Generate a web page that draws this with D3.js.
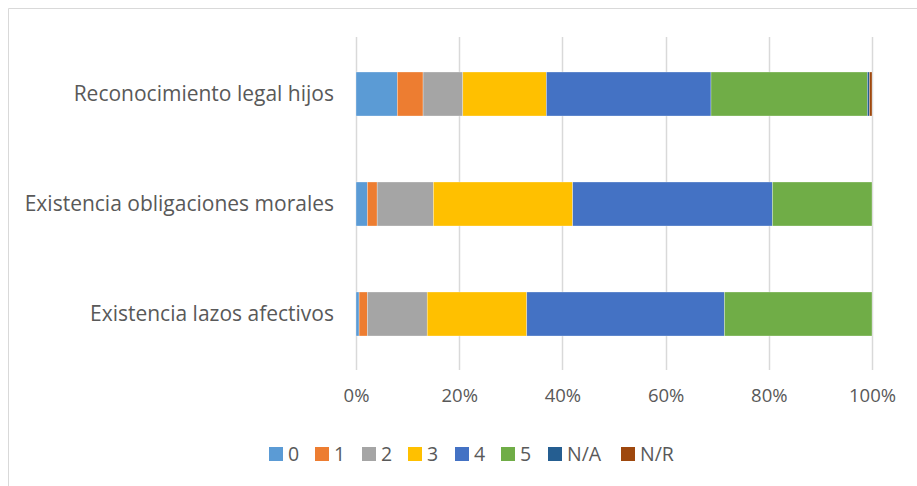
<!DOCTYPE html>
<html><head><meta charset="utf-8">
<script src="https://cdn.jsdelivr.net/npm/d3@7"></script>
<style>body{margin:0;background:#fff}svg{display:block}text{font-family:"Open Sans","Noto Sans",sans-serif;fill:#595959}</style>
</head><body><svg id="c" width="917" height="486"></svg>
<script>
const categories = ["Reconocimiento legal hijos", "Existencia obligaciones morales", "Existencia lazos afectivos"];
const seriesNames = ["0", "1", "2", "3", "4", "5", "N/A", "N/R"];
const s0 = [8.0, 2.2, 0.6];
const s1 = [5.0, 1.9, 1.6];
const s2 = [7.7, 10.9, 11.6];
const s3 = [16.2, 27.0, 19.3];
const s4 = [31.9, 38.7, 38.3];
const s5 = [30.3, 19.3, 28.6];
const sNA = [0.4, 0, 0];
const sNR = [0.5, 0, 0];
const xTicks = [0, 0.2, 0.4, 0.6, 0.8, 1.0];
const colors = ["#5b9bd5", "#ed7d31", "#a5a5a5", "#ffc000", "#4472c4", "#70ad47", "#255e91", "#9e480e"];

const seriesVals = [s0, s1, s2, s3, s4, s5, sNA, sNR];
const rows = categories.map((c, i) => {
  const r = {cat: c};
  seriesNames.forEach((s, j) => r[s] = seriesVals[j][i]);
  return r;
});
const stacked = d3.stack().keys(seriesNames).offset(d3.stackOffsetExpand)(rows);

const svg = d3.select("#c");
svg.append("path").attr("d", "M8.5,500V8.5H930")
  .attr("fill", "none").attr("stroke", "#d9d9d9").attr("stroke-width", 1);

const x = d3.scaleLinear().domain([0, 1]).range([356, 872]);
const y = d3.scaleBand().domain(categories).range([39, 369]).paddingInner(0.6).paddingOuter(0.3);

// gridlines
svg.append("g").selectAll("line").data(xTicks).join("line")
  .attr("x1", d => Math.round(x(d)) + 0.5).attr("x2", d => Math.round(x(d)) + 0.5)
  .attr("y1", 37).attr("y2", 370).attr("stroke", "#d9d9d9").attr("stroke-width", 1.5);

// bars
svg.append("g").selectAll("g").data(stacked).join("g")
  .attr("fill", (d, i) => colors[i])
  .selectAll("rect").data(d => d).join("rect")
  .attr("x", d => x(d[0])).attr("width", d => Math.max(0, x(d[1]) - x(d[0])))
  .attr("y", d => y(d.data.cat)).attr("height", y.bandwidth())
  .attr("stroke", "#fff").attr("stroke-width", 0.5).attr("stroke-opacity", 0.6);

// x axis labels
const xAxis = d3.axisBottom(x).tickValues(xTicks).tickFormat(d3.format(".0%")).tickSize(0).tickPadding(19);
const gx = svg.append("g").attr("transform", "translate(0,370)").call(xAxis);
gx.select(".domain").remove();
gx.selectAll("text").attr("font-size", 18.5).attr("fill", "#595959").style("font-family", '"Open Sans","Noto Sans",sans-serif');

// y labels
const yAxis = d3.axisLeft(y).tickSize(0).tickPadding(22);
const gy = svg.append("g").attr("transform", "translate(356,0)").call(yAxis);
gy.select(".domain").remove();
gy.selectAll("text").attr("font-size", 21).attr("fill", "#595959").style("font-family", '"Open Sans","Noto Sans",sans-serif');

// legend
const legX = [269, 315, 362, 408, 455, 501, 548, 621];
const leg = svg.append("g").selectAll("g").data(seriesNames).join("g")
  .attr("transform", (d, i) => `translate(${legX[i]},447)`);
leg.append("rect").attr("width", 14).attr("height", 14).attr("fill", (d, i) => colors[i]);
leg.append("text").attr("x", 19).attr("y", 7).attr("dy", "0.35em").attr("font-size", 19.5).text(d => d);
</script></body></html>
